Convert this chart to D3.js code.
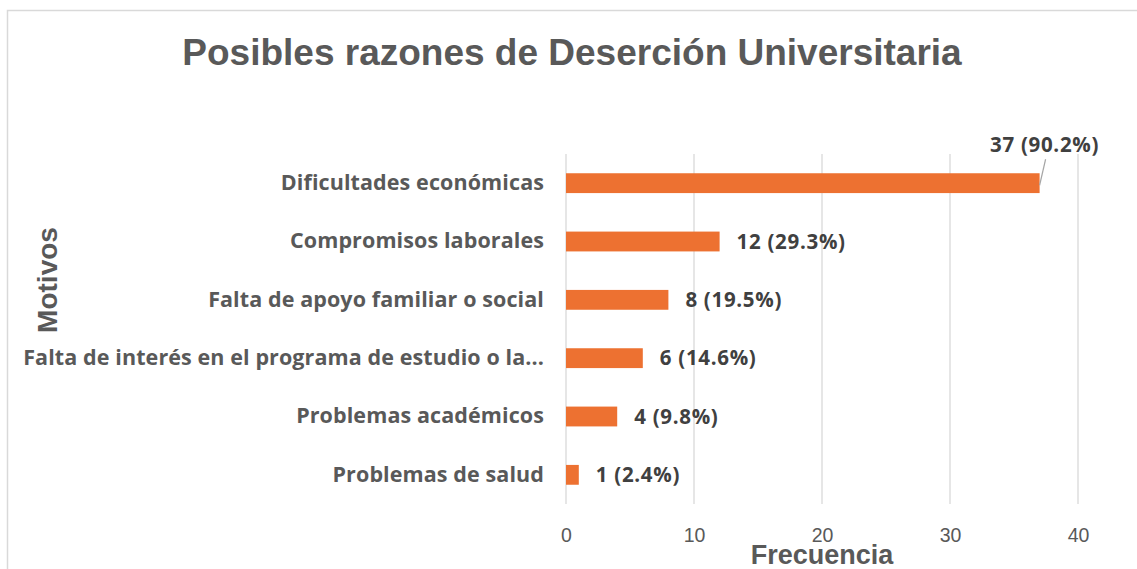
<!DOCTYPE html>
<html>
<head>
<meta charset="utf-8">
<script src="https://cdn.jsdelivr.net/npm/d3@7"></script>
<style>
  body { margin: 0; background: #fff; }
  svg { display: block; }
</style>
</head>
<body>
<svg width="1137" height="569"></svg>
<script>
    "use strict";

    var categories = [
        "Dificultades económicas",
        "Compromisos laborales",
        "Falta de apoyo familiar o social",
        "Falta de interés en el programa de estudio o la...",
        "Problemas académicos",
        "Problemas de salud"
    ];
    var values = [37, 12, 8, 6, 4, 1];
    var percents = ["90.2%", "29.3%", "19.5%", "14.6%", "9.8%", "2.4%"];
    var ticks = [0, 10, 20, 30, 40];

    var svg = d3.select("svg");
    var grey = "#595959";
    var labelFont = "'Open Sans', 'Noto Sans', sans-serif";

    // chart frame
    svg.append("rect")
        .attr("x", 7.5).attr("y", 10.5)
        .attr("width", 1140).attr("height", 570)
        .attr("fill", "none")
        .attr("stroke", "#d9d9d9")
        .attr("stroke-width", 1.5);

    var x = d3.scaleLinear().domain([0, 40]).range([566, 1078]);
    var y = d3.scaleBand().domain(categories).range([154, 504]).paddingInner(0.66).paddingOuter(0.33);

    // grid
    svg.selectAll("line.grid")
        .data(ticks)
        .enter().append("line")
        .attr("class", "grid")
        .attr("x1", function(d) { return x(d); })
        .attr("x2", function(d) { return x(d); })
        .attr("y1", 154).attr("y2", 504)
        .attr("stroke", "#d9d9d9")
        .attr("stroke-width", 1.3);

    // x axis
    var xAxis = svg.append("g")
        .attr("transform", "translate(0,504)")
        .call(d3.axisBottom(x).tickValues(ticks).tickSize(0).tickPadding(24));
    xAxis.select(".domain").remove();
    xAxis.selectAll("text")
        .attr("fill", grey)
        .style("font-family", "'Liberation Sans', Arial, sans-serif")
        .style("font-size", "19.5px");

    // y axis labels
    var yAxis = svg.append("g")
        .attr("transform", "translate(566,0)")
        .call(d3.axisLeft(y).tickSize(0).tickPadding(22));
    yAxis.select(".domain").remove();
    yAxis.selectAll("text")
        .attr("fill", grey)
        .style("font-family", labelFont)
        .style("font-weight", "bold")
        .style("font-size", "21.5px")
        .style("letter-spacing", "0.1px");

    // bars
    svg.selectAll("rect.bar")
        .data(values)
        .enter().append("rect")
        .attr("class", "bar")
        .attr("x", x(0))
        .attr("y", function(d, i) { return y(categories[i]); })
        .attr("width", function(d) { return x(d) - x(0); })
        .attr("height", y.bandwidth())
        .attr("fill", "#ed7131");

    // value labels
    svg.selectAll("text.val")
        .data(values)
        .enter().append("text")
        .attr("class", "val")
        .attr("x", function(d, i) { return i === 0 ? x(d) + 5 : x(d) + 17; })
        .attr("y", function(d, i) { return i === 0 ? y(categories[i]) - 28 : y(categories[i]) + y.bandwidth() / 2; })
        .attr("dy", "0.35em")
        .attr("text-anchor", function(d, i) { return i === 0 ? "middle" : "start"; })
        .attr("fill", "#404040")
        .style("font-family", labelFont)
        .style("font-weight", "bold")
        .style("font-size", "20.5px")
        .style("letter-spacing", "0.7px")
        .text(function(d, i) { return d + " (" + percents[i] + ")"; });

    // leader line for the top label
    svg.append("line")
        .attr("x1", x(values[0])).attr("y1", y(categories[0]) + 12)
        .attr("x2", x(values[0]) + 6).attr("y2", y(categories[0]) - 14)
        .attr("stroke", "#a6a6a6")
        .attr("stroke-width", 1.2);

    // title
    svg.append("text")
        .attr("x", 572).attr("y", 65)
        .attr("text-anchor", "middle")
        .attr("fill", grey)
        .style("font-family", "'Liberation Sans', Arial, sans-serif")
        .style("font-weight", "bold")
        .style("font-size", "37px")
        .text("Posibles razones de Deserción Universitaria");

    // axis titles
    svg.append("text")
        .attr("x", 822).attr("y", 564)
        .attr("text-anchor", "middle")
        .attr("fill", grey)
        .style("font-family", "'Liberation Sans', Arial, sans-serif")
        .style("font-weight", "bold")
        .style("font-size", "27px")
        .text("Frecuencia");

    svg.append("text")
        .attr("transform", "translate(57,280) rotate(-90)")
        .attr("text-anchor", "middle")
        .attr("fill", grey)
        .style("font-family", "'Liberation Sans', Arial, sans-serif")
        .style("font-weight", "bold")
        .style("font-size", "28px")
        .text("Motivos");
</script>
</body>
</html>
